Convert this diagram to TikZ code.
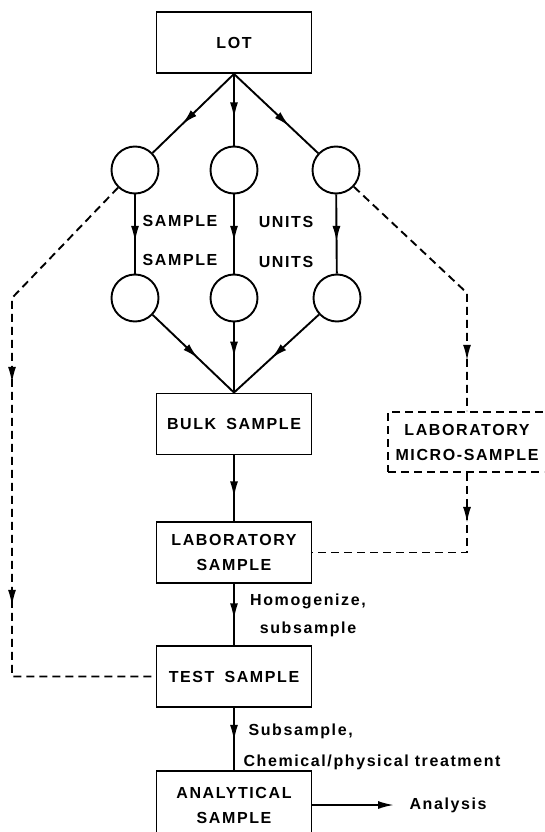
\documentclass[tikz,border=0pt]{standalone}
\usepackage{fontspec}
\setmainfont{Liberation Sans}[LetterSpace=10]
\usetikzlibrary{arrows.meta,decorations.markings}
\begin{document}
\begin{tikzpicture}[x=1pt,y=-1pt,
  every node/.style={font=\fontsize{16}{25}\selectfont\bfseries},
  box/.style={draw,line width=1.9pt,minimum width=155pt,minimum height=61pt,inner sep=0pt,align=center},
  circ/.style={draw,circle,line width=1.9pt,minimum size=47pt,inner sep=0pt},
  conn/.style={line width=1.9pt},
  dsh/.style={line width=1.9pt,dash pattern=on 8pt off 5pt},
  midarr/.style={postaction={decorate},decoration={markings,mark=at position #1 with {\arrow{Latex[length=16pt,width=8pt]}}}},
]
\useasboundingbox (0,0) rectangle (544,832);
\clip (0,0) rectangle (544,832);

% boxes
\node[box] (lot) at (234,42.5) {LOT};
\node[box] (bulk) at (234,424) {BULK\hspace{4pt} SAMPLE};
\node[box] (lab) at (234,552.5) {LABORATORY\\SAMPLE};
\node[box] (test) at (234,676.5) {TEST\hspace{4pt} SAMPLE};
\node[box,minimum height=68pt] (ana) at (234,805) {ANALYTICAL\\SAMPLE};
\node[box,dsh,minimum width=158pt,minimum height=60pt] (micro) at (467,442) {LABORATORY\\MICRO-SAMPLE};
\node[anchor=west] (an) at (406,805) {Analysis};

% circles
\node[circ] (a1) at (135,170) {};
\node[circ] (a2) at (234,170) {};
\node[circ] (a3) at (336,170) {};
\node[circ] (b1) at (135,298) {};
\node[circ] (b2) at (234,298) {};
\node[circ] (b3) at (337,298) {};

% labels
\node[anchor=base] (s1) at (180,226) {SAMPLE};
\node[anchor=base] (s2) at (180,265) {SAMPLE};
\node[anchor=base] (u1) at (286,227) {UNITS};
\node[anchor=base] (u2) at (286,267) {UNITS};
\node[anchor=base] (h1) at (308,605) {Homogenize,};
\node[anchor=base] (h2) at (308,633) {subsample};
\node[anchor=base west] (t1) at (245,735) {Subsample,};
\node[anchor=base west] (t2) at (240,766) {Chemical/physical treatment};

% solid connectors
\draw[conn,midarr=0.64] (lot.south) -- (a1);
\draw[conn,midarr=0.62] (lot.south) -- (a2);
\draw[conn,midarr=0.66] (lot.south) -- (a3);
\draw[conn,midarr=0.6] (a1) -- (b1);
\draw[conn,midarr=0.6] (a2) -- (b2);
\draw[conn,midarr=0.6] (a3) -- (b3);
\draw[conn,midarr=0.56] (b1) -- (bulk.north);
\draw[conn,midarr=0.5] (b2) -- (bulk.north);
\draw[conn,midarr=0.56] (b3) -- (bulk.north);
\draw[conn,midarr=0.64] (bulk) -- (lab);
\draw[conn,midarr=0.58] (lab) -- (test);
\draw[conn,midarr=0.53] (test) -- (ana);
\draw[conn,-{Latex[length=16pt,width=8pt]},shorten >=12pt] (ana.east) -- (an.west);

% dashed connectors
\coordinate (lb) at (12,298);
\coordinate (rb) at (467,293);
\draw[dsh,postaction={decorate},decoration={markings,
  mark=at position 238pt with {\arrow{Latex[length=16pt,width=8pt]}},
  mark=at position 461pt with {\arrow{Latex[length=16pt,width=8pt]}}}]
  (a1) -- (lb) |- (test.west);
\draw[dsh,midarr=223pt] (a3) -- (rb) -- (micro.north);
\draw[dsh,midarr=50pt] (micro.south) |- (lab.east);
\end{tikzpicture}
\end{document}
